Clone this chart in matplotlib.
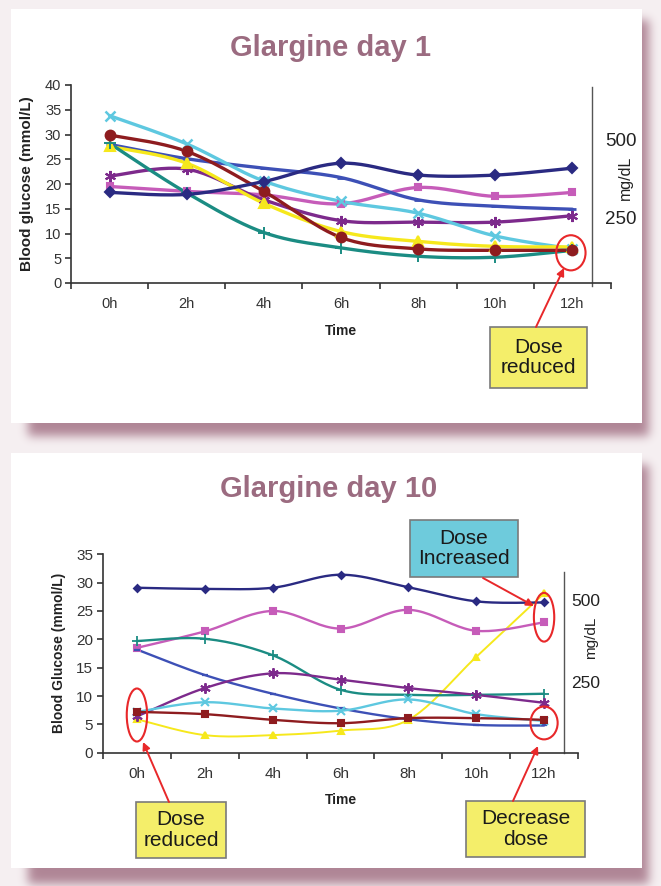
import math
import numpy as np
import matplotlib
matplotlib.use("Agg")
import matplotlib.pyplot as plt
from matplotlib.patches import Ellipse, Rectangle, FancyArrowPatch

# ---------------- data ----------------
hours = ['0h', '2h', '4h', '6h', '8h', '10h', '12h']

d1_navy = [18.3, 17.9, 20.5, 24.2, 21.8, 21.8, 23.2]
d1_blue = [28.0, 25.1, 23.2, 21.3, 16.8, 15.5, 14.9]
d1_pink = [19.5, 18.5, 17.8, 16.0, 19.3, 17.5, 18.3]
d1_purple = [21.6, 23.0, 16.8, 12.6, 12.3, 12.3, 13.6]
d1_cyan = [33.8, 28.1, 20.6, 16.5, 14.1, 9.5, 6.9]
d1_red = [29.9, 26.6, 18.5, 9.2, 6.9, 6.6, 6.6]
d1_yellow = [27.6, 24.2, 16.1, 10.4, 8.4, 7.4, 7.3]
d1_teal = [28.2, 18.2, 10.2, 7.1, 5.4, 5.2, 6.6]

d10_navy = [29.1, 28.9, 29.1, 31.4, 29.2, 26.7, 26.5]
d10_pink = [18.5, 21.4, 25.0, 21.9, 25.2, 21.5, 23.0]
d10_teal = [19.7, 20.1, 17.2, 11.1, 10.2, 10.2, 10.4]
d10_blue = [18.2, 13.7, 10.4, 7.8, 5.9, 4.9, 4.8]
d10_purple = [6.4, 11.4, 14.0, 12.9, 11.4, 10.2, 8.8]
d10_cyan = [7.2, 8.9, 7.8, 7.4, 9.4, 6.8, 5.6]
d10_red = [7.2, 6.8, 5.8, 5.2, 6.1, 6.1, 5.8]
d10_yellow = [5.9, 3.1, 3.1, 3.9, 5.8, 16.9, 28.1]

mgdl_labels = ['500', '250']

# ---------------- style ----------------
W, H = 661, 886
C_NAVY = '#2a2a82'
C_BLUE = '#3d50b6'
C_PINK = '#c65cb9'
C_PURPLE = '#7d2a8c'
C_CYAN = '#5ec8e0'
C_RED = '#8e1c1f'
C_YELLOW = '#f6e81c'
C_TEAL = '#1b8c83'
TITLE_C = '#9b6b80'
TXT = '#333333'
ASTER = (6, 2, 0)

plt.rcParams['font.family'] = ['Liberation Sans', 'DejaVu Sans']

fig = plt.figure(figsize=(W / 100, H / 100), dpi=100)


def fx(x):
    return x / W


def fy(y):
    return 1 - y / H


# ---------------- background with panels and shadows ----------------
verf = np.vectorize(math.erf)
img = np.empty((H, W, 3))
img[:] = np.array([246, 240, 242]) / 255.0
xs = np.arange(W) + 0.5
ys = np.arange(H) + 0.5


def blur_rect(x0, y0, x1, y1, s):
    mx = 0.5 * (verf((xs - x0) / s) - verf((xs - x1) / s))
    my = 0.5 * (verf((ys - y0) / s) - verf((ys - y1) / s))
    return my[:, None] * mx[None, :]


shadow_c = np.array([172, 128, 145]) / 255.0
for (sx0, sy0, sx1, sy1) in [(28, 20, 649, 436), (28, 465, 649, 884)]:
    m = blur_rect(sx0, sy0, sx1, sy1, 7.0)[:, :, None] * 0.95
    img = img * (1 - m) + shadow_c * m
for (px0, py0, px1, py1) in [(11, 9, 642, 423), (11, 453, 642, 868)]:
    img[py0:py1, px0:px1] = 1.0
fig.figimage(img, xo=0, yo=0, origin='upper', zorder=-10)


def smooth(yv, n=24):
    P = np.column_stack([np.arange(len(yv), dtype=float), np.asarray(yv, float)])
    ext = np.vstack([P[0], P, P[-1]])
    out = []
    t = np.linspace(0, 1, n)[:, None]
    for i in range(len(P) - 1):
        p0, p1, p2, p3 = ext[i], ext[i + 1], ext[i + 2], ext[i + 3]
        c1 = p1 + (p2 - p0) / 6
        c2 = p2 - (p3 - p1) / 6
        seg = (1 - t) ** 3 * p1 + 3 * (1 - t) ** 2 * t * c1 + 3 * (1 - t) * t ** 2 * c2 + t ** 3 * p2
        out.append(seg if i == 0 else seg[1:])
    return np.vstack(out)


def series(ax, yv, color, marker, ms, lw, mew=1.5, zorder=3):
    c = smooth(yv)
    ax.plot(c[:, 0], c[:, 1], color=color, lw=lw, solid_capstyle='round', zorder=zorder, clip_on=False)
    ax.plot(np.arange(len(yv)), yv, linestyle='none', marker=marker, ms=ms, color=color,
            mec=color, mfc=color, mew=mew, zorder=zorder + 0.5, clip_on=False)


def style_axes(ax, ymax, ystep, fs):
    ax.patch.set_visible(False)
    for s in ['top', 'right']:
        ax.spines[s].set_visible(False)
    for s in ['left', 'bottom']:
        ax.spines[s].set_color(TXT)
        ax.spines[s].set_linewidth(1.2)
    ax.set_xlim(-0.5, len(hours) - 0.5)
    ax.set_ylim(0, ymax)
    ax.set_yticks(np.arange(0, ymax + 1, ystep))
    ax.set_xticks(np.arange(-0.5, len(hours), 1.0))
    ax.set_xticklabels([])
    ax.set_xticks(np.arange(len(hours)), minor=True)
    ax.set_xticklabels(hours, minor=True)
    ax.tick_params(axis='x', which='major', direction='out', length=4, width=1.2, color=TXT)
    ax.tick_params(axis='x', which='minor', length=0, pad=10, labelsize=fs, labelcolor=TXT)
    ax.tick_params(axis='y', direction='out', length=4, width=1.2, color=TXT, pad=3,
                   labelsize=fs, labelcolor=TXT)


# ---------------- top chart ----------------
ax1 = fig.add_axes([fx(71), fy(283), (611 - 71) / W, (283 - 85) / H])
style_axes(ax1, 40, 5, 10.5)
LW1 = 2.4
series(ax1, d1_pink, C_PINK, 's', 5, LW1)
series(ax1, d1_blue, C_BLUE, '_', 6, LW1, mew=2)
series(ax1, d1_purple, C_PURPLE, ASTER, 8, LW1, mew=1.5)
series(ax1, d1_cyan, C_CYAN, 'x', 7, LW1, mew=1.8)
series(ax1, d1_yellow, C_YELLOW, '^', 7, LW1)
series(ax1, d1_teal, C_TEAL, '+', 8, LW1, mew=1.4)
series(ax1, d1_red, C_RED, 'o', 7, LW1)
series(ax1, d1_navy, C_NAVY, 'D', 5.5, LW1)

ax1.plot([6.25, 6.25], [-0.6, 39.6], color='#555555', lw=1.0, clip_on=False, zorder=2)
ax1.add_patch(Ellipse((5.98, 6.1), 0.38, 7.1, fill=False, ec='#e8282a', lw=1.5, zorder=6, clip_on=False))

fig.text(fx(330), fy(48), 'Glargine day 1', ha='center', va='center', fontsize=21,
         fontweight='bold', color=TITLE_C)
fig.text(fx(27), fy(184), 'Blood glucose (mmol/L)', rotation=90, ha='center', va='center',
         fontsize=11, fontweight='bold', color='#222222')
fig.text(fx(341), fy(331), 'Time', ha='center', va='center', fontsize=10, fontweight='bold',
         color='#222222')
fig.text(fx(621), fy(142), mgdl_labels[0], ha='center', va='center', fontsize=13.5, color='#222222')
fig.text(fx(621), fy(220), mgdl_labels[1], ha='center', va='center', fontsize=13.5, color='#222222')
fig.text(fx(625), fy(178), 'mg/dL', rotation=90, ha='center', va='center', fontsize=11.5, color='#222222')

# ---------------- bottom chart ----------------
ax2 = fig.add_axes([fx(103), fy(752.7), (578 - 103) / W, (752.7 - 554.3) / H])
style_axes(ax2, 35, 5, 11)
LW2 = 1.7
series(ax2, d10_yellow, C_YELLOW, '^', 4.5, 1.4)
series(ax2, d10_pink, C_PINK, 's', 4, LW2)
series(ax2, d10_teal, C_TEAL, '+', 6.5, LW2, mew=1.3)
series(ax2, d10_blue, C_BLUE, '_', 5, LW2, mew=1.6)
series(ax2, d10_purple, C_PURPLE, ASTER, 7.5, LW2, mew=1.4)
series(ax2, d10_cyan, C_CYAN, 'x', 6, LW2, mew=1.5)
series(ax2, d10_red, C_RED, 's', 3.8, LW2)
series(ax2, d10_navy, C_NAVY, 'D', 3.5, LW2)

ax2.plot([6.29, 6.29], [0, 31.9], color='#555555', lw=1.0, clip_on=False, zorder=2)
for (cx, cy, ew, eh) in [(0.0, 6.65, 0.30, 9.35), (6.0, 23.9, 0.30, 8.6), (6.0, 5.25, 0.40, 5.8)]:
    ax2.add_patch(Ellipse((cx, cy), ew, eh, fill=False, ec='#e8282a', lw=1.5, zorder=6, clip_on=False))

fig.text(fx(329), fy(489), 'Glargine day 10', ha='center', va='center', fontsize=21,
         fontweight='bold', color=TITLE_C)
fig.text(fx(59), fy(653), 'Blood Glucose (mmol/L)', rotation=90, ha='center', va='center',
         fontsize=10, fontweight='bold', color='#222222')
fig.text(fx(341), fy(800), 'Time', ha='center', va='center', fontsize=10, fontweight='bold',
         color='#222222')
fig.text(fx(586), fy(602), mgdl_labels[0], ha='center', va='center', fontsize=12.5, color='#222222')
fig.text(fx(586), fy(683), mgdl_labels[1], ha='center', va='center', fontsize=12.5, color='#222222')
fig.text(fx(591), fy(638), 'mg/dL', rotation=90, ha='center', va='center', fontsize=11, color='#222222')


# ---------------- callout boxes and arrows ----------------
def box(x0, y0, x1, y1, text, fc):
    fig.patches.append(Rectangle((fx(x0), fy(y1)), (x1 - x0) / W, (y1 - y0) / H,
                                 transform=fig.transFigure, fc=fc, ec='#7a7a7a', lw=1.2, zorder=5))
    fig.text(fx((x0 + x1) / 2), fy((y0 + y1) / 2), text, ha='center', va='center',
             fontsize=15, color='#1a1a1a', linespacing=1.12, zorder=6)


def arrow(xa, ya, xb, yb):
    fig.patches.append(FancyArrowPatch((fx(xa), fy(ya)), (fx(xb), fy(yb)), transform=fig.transFigure,
                                       arrowstyle='-|>', mutation_scale=11, color='#e8282a',
                                       lw=1.4, shrinkA=0, shrinkB=0, zorder=7))


YEL = '#f4ee6a'
box(490, 327, 587, 388, 'Dose\nreduced', YEL)
arrow(536, 327, 564, 268)

box(410, 520, 518, 577, 'Dose\nIncreased', '#6ecbdc')
arrow(483, 578, 534, 606)

box(136, 802, 226, 858, 'Dose\nreduced', YEL)
arrow(169, 802, 143, 742)

box(466, 801, 585, 857, 'Decrease\ndose', YEL)
arrow(513, 801, 538, 746)

fig.savefig('out.png', dpi=100)
